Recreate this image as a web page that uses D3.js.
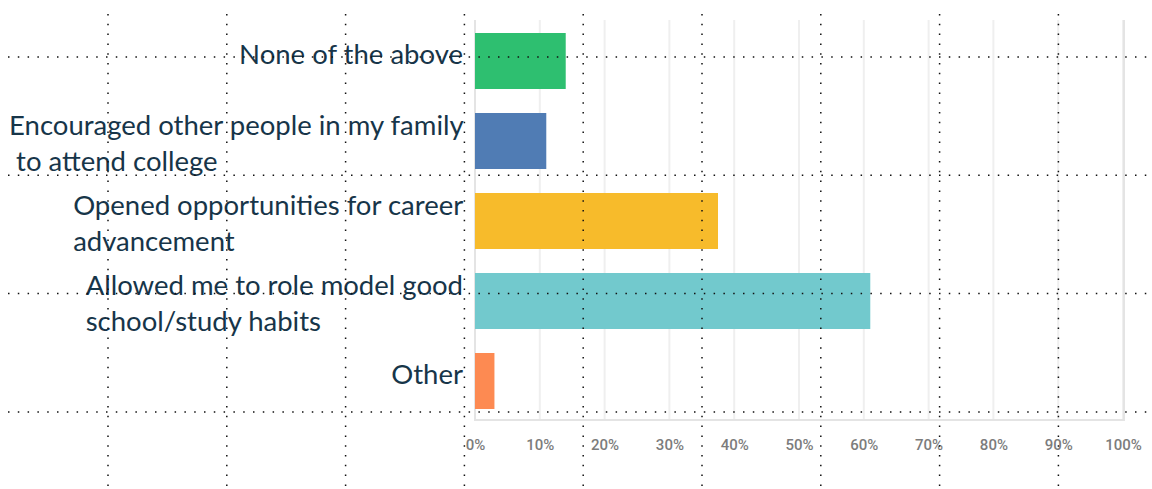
<!DOCTYPE html>
<html lang="en">
    <head>
        <meta charset="utf-8">
        <title>Survey bar chart</title>
        <script type="text/javascript" src="https://cdn.jsdelivr.net/npm/d3@7"></script>
        <style type="text/css">
            body { margin: 0; background: #fff; }
            svg { display: block; }
            .cat { font-family: "Gill Sans MT", "Gill Sans", Lato, sans-serif; font-size: 27.5px; fill: #173549; white-space: pre; }
            .axis text { font-family: Roboto, "Open Sans", sans-serif; font-size: 15px; font-weight: 500; fill: #7c7c7c; }
        </style>
    </head>
    <body>
        <script type="text/javascript">
            var w = 1152;
            var h = 489;

            //Data
            var categories = [
                "None of the above",
                "Encouraged other people in my family\n to attend college",
                "Opened opportunities for career\nadvancement",
                "Allowed me to role model good\nschool/study habits",
                "Other"
            ];
            var values = [14, 11, 37.5, 61, 3];
            var colors = ["#2ebf70", "#507cb4", "#f7bb2b", "#72c9cd", "#fd8a52"];
            var tickValues = [0, 10, 20, 30, 40, 50, 60, 70, 80, 90, 100];

            var xScale = d3.scaleLinear()
                .domain([0, 100])
                .range([475, 1123]);

            var yScale = d3.scaleBand()
                .domain(categories)
                .range([21, 421])
                .paddingInner(0.3)
                .paddingOuter(0.15);

            var svg = d3.select("body")
                .append("svg")
                .attr("width", w)
                .attr("height", h);

            //light chart gridlines
            svg.append("g")
                .selectAll("line")
                .data(tickValues)
                .enter()
                .append("line")
                .attr("x1", function(d) { return xScale(d); })
                .attr("x2", function(d) { return xScale(d); })
                .attr("y1", 20)
                .attr("y2", 420)
                .attr("stroke", "#efefef")
                .attr("stroke-width", 2);

            // box edges
            svg.append("path")
                .attr("d", "M" + xScale(0) + ",20 V420 H" + (xScale(100) + 1) + " V20")
                .attr("fill", "none")
                .attr("stroke", "#e4e4e4")
                .attr("stroke-width", 2);

            var bars = svg.selectAll("rect.bar")
                .data(values)
                .enter()
                .append("rect")
                .attr("class", "bar")
                .attr("x", xScale(0))
                .attr("y", function(d, i) { return yScale(categories[i]); })
                .attr("width", function(d) { return xScale(d) - xScale(0); })
                .attr("height", yScale.bandwidth())
                .attr("fill", function(d, i) { return colors[i]; });

            var xAxis = d3.axisBottom(xScale)
                .tickValues(tickValues)
                .tickSize(0)
                .tickPadding(0)
                .tickFormat(function(d) { return d + "%"; });

            var gx = svg.append("g")
                .attr("class", "axis")
                .attr("transform", "translate(0,439)")
                .call(xAxis);
            gx.select(".domain").remove();

            //category labels: right aligned block, left aligned lines
            var labelRight = 463;
            var lineH = 36;
            categories.forEach(function(c, i) {
                var lines = c.split("\n");
                var cy = yScale(c) + yScale.bandwidth() / 2;
                var t = svg.append("text")
                    .attr("class", "cat");
                lines.forEach(function(l, j) {
                    t.append("tspan").text(l);
                });
                var widest = 0;
                t.selectAll("tspan").each(function() {
                    widest = Math.max(widest, this.getComputedTextLength());
                });
                var baseline0 = cy + 12 - (lines.length - 1) * lineH / 2;
                if (lines.length == 1) baseline0 = cy + 3;
                t.selectAll("tspan")
                    .attr("x", labelRight - widest)
                    .attr("y", function(d, j) { return baseline0 + j * lineH; });
            });

            //dotted guide grid over everything
            var gStep = 118.8;
            var vx = d3.range(108, w, gStep);
            var hy = d3.range(57, 420, 118.3);
            svg.append("g")
                .selectAll("line")
                .data(vx)
                .enter()
                .append("line")
                .attr("x1", function(d) { return d; })
                .attr("x2", function(d) { return d; })
                .attr("y1", 14)
                .attr("y2", h)
                .attr("stroke", "#111")
                .attr("stroke-width", 1.5)
                .attr("stroke-dasharray", "1.5,8.3");
            svg.append("g")
                .selectAll("line")
                .data(hy)
                .enter()
                .append("line")
                .attr("x1", 8)
                .attr("x2", w)
                .attr("y1", function(d) { return d; })
                .attr("y2", function(d) { return d; })
                .attr("stroke", "#111")
                .attr("stroke-width", 1.5)
                .attr("stroke-dasharray", "1.5,8.3");
        </script>
    </body>
</html>
